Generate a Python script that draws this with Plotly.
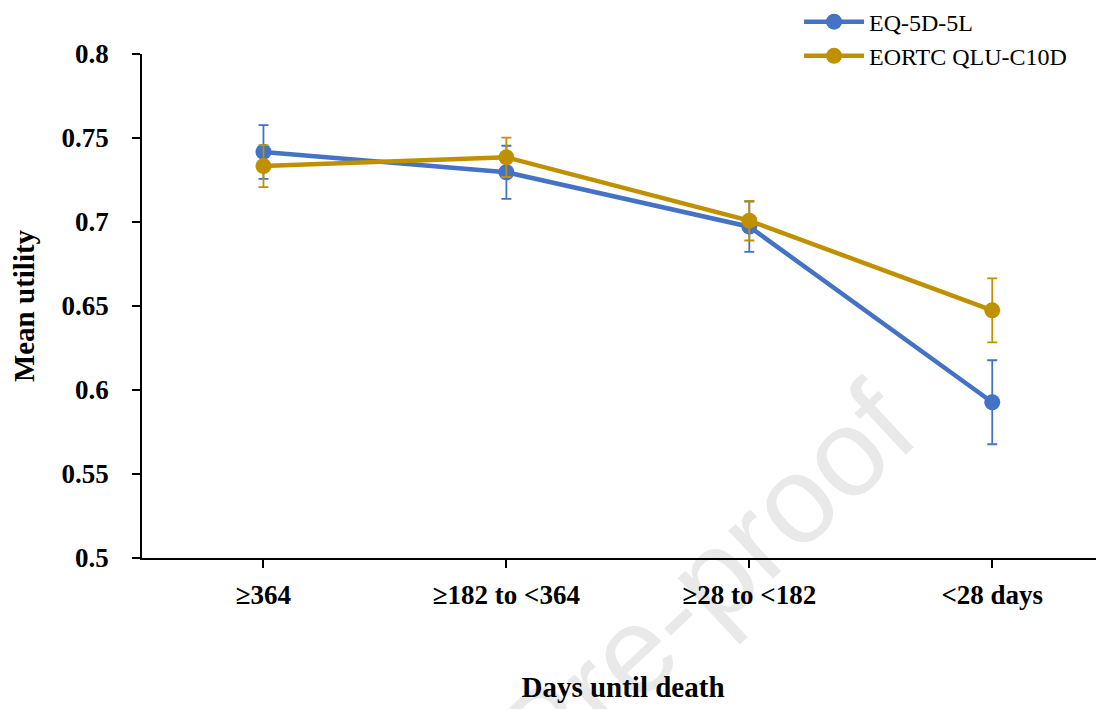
import plotly.graph_objects as go

categories = ["≥364", "≥182 to <364", "≥28 to <182", "<28 days"]
eq5d_mean = [0.7417, 0.7296, 0.6972, 0.5927]
eq5d_err = [0.0160, 0.0158, 0.0150, 0.0250]
qlu_mean = [0.7333, 0.7385, 0.7008, 0.6474]
qlu_err = [0.0125, 0.0117, 0.0118, 0.0190]

blue = "#4472C4"
gold = "#BF9000"
serif = "Liberation Serif, Times New Roman, serif"

fig = go.Figure()
fig.add_trace(go.Scatter(
    x=list(range(len(categories))), y=eq5d_mean, name="EQ-5D-5L",
    mode="lines+markers",
    line=dict(color=blue, width=4.5),
    marker=dict(color=blue, size=16),
    error_y=dict(type="data", array=eq5d_err, color=blue, thickness=1.8, width=5),
))
fig.add_trace(go.Scatter(
    x=list(range(len(categories))), y=qlu_mean, name="EORTC QLU-C10D",
    mode="lines+markers",
    line=dict(color=gold, width=4.5),
    marker=dict(color=gold, size=16),
    error_y=dict(type="data", array=qlu_err, color=gold, thickness=1.8, width=5),
))

# watermark (translucent so the black text beneath stays black)
fig.add_annotation(
    text="Journal Pre-proof", xref="paper", yref="paper",
    x=0.417, y=-1.103, showarrow=False, textangle=-43,
    font=dict(family="Liberation Sans, Arial, sans-serif", size=124, color="rgba(0,0,0,0.085)"),
)

fig.update_layout(
    width=1096, height=701,
    paper_bgcolor="white", plot_bgcolor="white",
    margin=dict(l=134, r=0, t=46, b=151, autoexpand=False),
    font=dict(family=serif, color="black"),
    showlegend=True,
    legend=dict(
        x=0.683, y=1.108, xanchor="left", yanchor="top",
        font=dict(family=serif, size=24, color="black"),
        bgcolor="rgba(0,0,0,0)", tracegroupgap=0, itemwidth=60,
    ),
    xaxis=dict(
        range=[-0.5, 3.46], automargin=False,
        tickmode="array", tickvals=list(range(len(categories))), ticktext=categories,
        showline=True, linecolor="black", linewidth=1.5,
        ticks="outside", ticklen=8, tickwidth=1.5, tickcolor="black",
        showgrid=False, zeroline=False,
        tickfont=dict(family=serif, size=27, color="black", weight="bold"),
        ticklabelstandoff=4,
        title=dict(text="<b>Days until death</b>", font=dict(family=serif, size=29, color="black"), standoff=68),
    ),
    yaxis=dict(
        range=[0.5, 0.8], dtick=0.05, tick0=0.5, automargin=False,
        showline=True, linecolor="black", linewidth=1.5,
        ticks="outside", ticklen=8, tickwidth=1.5, tickcolor="black",
        showgrid=False, zeroline=False,
        tickfont=dict(family=serif, size=27, color="black", weight="bold"),
        ticklabelstandoff=18,
        title=dict(text="<b>Mean utility</b>", font=dict(family=serif, size=29, color="black"), standoff=20),
    ),
)

fig.write_html("out.html")
